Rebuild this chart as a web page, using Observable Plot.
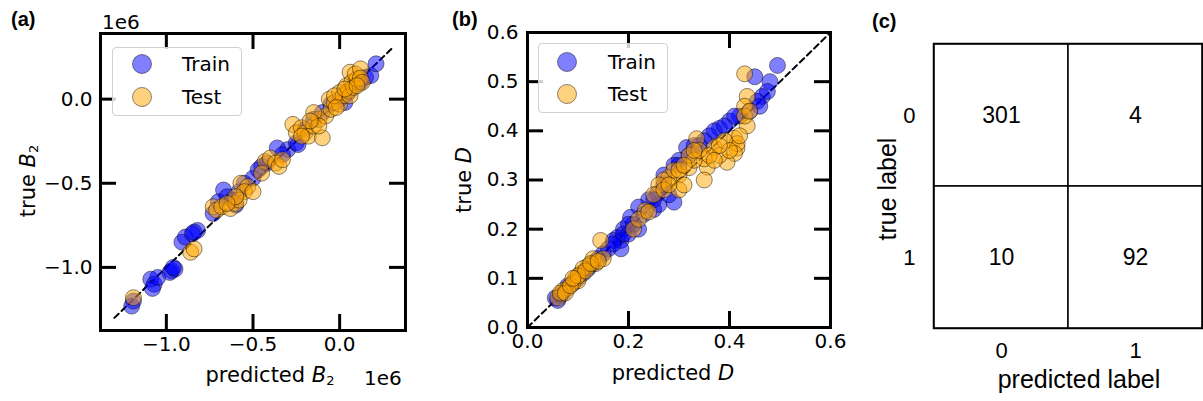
<!DOCTYPE html>
<html><head><meta charset="utf-8">
<script src="https://cdn.jsdelivr.net/npm/d3@7"></script>
<script src="https://cdn.jsdelivr.net/npm/@observablehq/plot@0.6"></script>
<style>
body{margin:0;background:#fff;}
#root{position:relative;width:1203px;height:401px;overflow:hidden;font-family:"DejaVu Sans",sans-serif;color:#000;}
#root svg{position:absolute;top:0;}
.t{position:absolute;white-space:nowrap;line-height:1;}
.dj{font-family:"DejaVu Sans";font-size:20px;}
.dt{font-family:"DejaVu Sans";font-size:21px;}
.ar{font-family:"Liberation Sans",Arial;font-size:25px;}
.pl{font-family:"Liberation Sans",Arial;font-weight:bold;font-size:20px;}
.rot{transform:translate(-50%,-50%) rotate(-90deg);}
.ctr{transform:translate(-50%,-50%);}
.leg{position:absolute;border:1px solid #d0d0d0;border-radius:4px;background:rgba(255,255,255,0.8);box-sizing:border-box;}
sub{font-size:13px;vertical-align:-3px;}
</style></head>
<body><div id="root"></div>
<script>
// ---- Panel (a): B2 regression (units of 1e6) ----
const aTrainPred = [-1.20,-1.19,-1.09,-1.07,-1.08,-1.05,-0.97,-0.98,-0.95,-0.96,-0.91,-0.89,-0.82,-0.85,-0.84,-0.70,-0.67,-0.65,-0.62,-0.58,-0.55,-0.50,-0.47,-0.45,-0.42,-0.36,-0.30,-0.25,-0.24,-0.20,-0.15,-0.10,-0.05,0.00,0.05,0.10,0.15,0.18,0.21,-0.33,-0.60,-0.73,0.03,0.12];
const aTrainTrue = [-1.23,-1.20,-1.07,-1.10,-1.125,-1.06,-1.02,-1.03,-1.01,-1.00,-0.85,-0.82,-0.78,-0.80,-0.79,-0.61,-0.54,-0.58,-0.60,-0.55,-0.50,-0.47,-0.42,-0.40,-0.38,-0.29,-0.30,-0.26,-0.27,-0.18,-0.12,-0.08,-0.03,0.00,0.04,0.09,0.13,0.14,0.21,-0.33,-0.63,-0.68,-0.02,0.10];
const aTestPred = [-1.19,-0.86,-0.84,-0.73,-0.71,-0.68,-0.63,-0.60,-0.57,-0.53,-0.55,-0.58,-0.50,-0.43,-0.40,-0.37,-0.35,-0.33,-0.27,-0.25,-0.22,-0.20,-0.18,-0.15,-0.10,-0.12,-0.08,-0.05,-0.06,-0.03,0.00,0.00,0.02,0.04,0.05,0.06,0.06,0.07,0.08,0.10,0.09,0.12,0.12,0.13,-0.15,-0.03,-0.22,-0.12,-0.02,0.03,0.10,-0.17,-0.60,-0.65,-0.45];
const aTestTrue = [-1.18,-0.91,-0.89,-0.64,-0.66,-0.64,-0.65,-0.62,-0.50,-0.52,-0.55,-0.60,-0.55,-0.37,-0.35,-0.38,-0.40,-0.36,-0.15,-0.20,-0.17,-0.20,-0.22,-0.16,-0.23,-0.12,-0.10,-0.06,0.00,-0.02,-0.03,0.04,0.02,0.08,0.05,0.02,0.16,0.10,0.07,0.12,0.15,0.18,0.125,0.10,-0.08,0.02,-0.22,-0.16,-0.05,0.06,0.08,-0.13,-0.58,-0.62,-0.44];
const aTicks = [-1.0,-0.5,0.0];
const aDiag = [-1.30,0.30];

// ---- Panel (b): D regression ----
const bTrainPred = [0.495,0.45,0.48,0.475,0.465,0.455,0.44,0.46,0.40,0.38,0.36,0.35,0.315,0.30,0.29,0.27,0.29,0.25,0.257,0.24,0.22,0.204,0.19,0.178,0.185,0.185,0.17,0.16,0.15,0.13,0.12,0.10,0.08,0.065,0.055,0.06,0.20,0.22,0.26,0.28,0.42,0.33,0.21,0.17,0.19,0.20,0.23,0.25,0.27,0.30,0.32,0.34,0.37,0.39,0.41,0.07,0.09,0.11,0.14];
const bTrainTrue = [0.533,0.51,0.50,0.48,0.47,0.46,0.44,0.45,0.42,0.405,0.39,0.38,0.366,0.34,0.33,0.31,0.255,0.24,0.272,0.26,0.245,0.224,0.20,0.183,0.177,0.16,0.177,0.16,0.15,0.13,0.12,0.10,0.085,0.065,0.06,0.055,0.19,0.20,0.25,0.27,0.43,0.37,0.21,0.17,0.19,0.21,0.23,0.26,0.29,0.33,0.35,0.37,0.40,0.41,0.43,0.07,0.09,0.11,0.14];
const bTestPred = [0.43,0.435,0.43,0.435,0.41,0.415,0.415,0.41,0.395,0.356,0.335,0.37,0.35,0.35,0.32,0.30,0.28,0.27,0.30,0.31,0.32,0.33,0.38,0.39,0.40,0.26,0.25,0.233,0.21,0.22,0.24,0.145,0.135,0.13,0.12,0.105,0.11,0.095,0.09,0.08,0.07,0.06,0.065,0.10,0.15,0.34,0.29,0.075,0.085,0.10,0.115,0.125,0.14,0.09,0.27,0.28,0.30,0.31,0.33,0.36,0.37,0.38,0.42,0.43,0.44];
const bTestTrue = [0.516,0.47,0.45,0.41,0.385,0.365,0.374,0.354,0.336,0.326,0.384,0.366,0.343,0.30,0.325,0.31,0.305,0.30,0.28,0.29,0.35,0.34,0.35,0.38,0.36,0.29,0.27,0.238,0.20,0.22,0.235,0.177,0.13,0.14,0.125,0.11,0.12,0.10,0.09,0.08,0.075,0.06,0.07,0.095,0.14,0.36,0.32,0.07,0.085,0.105,0.115,0.13,0.135,0.10,0.28,0.29,0.32,0.33,0.36,0.35,0.34,0.37,0.39,0.43,0.44];
const bTicks = [0.0,0.2,0.4,0.6];
const bYTicks = [0.0,0.1,0.2,0.3,0.4,0.5,0.6];
const bDiag = [0,0.6];

// ---- Panel (c): confusion matrix ----
const cmLabels = ["0","1"];
const cmTrue = ["0","0","1","1"];
const cmPred = ["0","1","0","1"];
const cmCount = [301,4,10,92];

const root = document.getElementById("root");
const zip = (xs, ys) => xs.map((x,i)=>({x, y: ys[i]}));

function scatter({trainP, trainT, testP, testT, xTicks, yTicks, domX, domY, diag, left, width, ml, mr, mt, mb, H, ytp}) {
  const innerH = H - mt - mb, innerW = width - ml - mr, tl = 16;
  const fmt = d3.format(".1f");
  const p = Plot.plot({
    width, height: H, marginLeft: ml, marginRight: mr, marginTop: mt, marginBottom: mb,
    style: {fontFamily: "DejaVu Sans", fontSize: "20px", color: "#000", background: "transparent"},
    x: {domain: domX}, y: {domain: domY},
    marks: [
      Plot.line(zip(diag, diag), {x:"x", y:"y", stroke:"black", strokeWidth:2, strokeDasharray:"6,4"}),
      Plot.dot(zip(trainP, trainT), {x:"x", y:"y", r:8, fill:"blue", fillOpacity:0.5, stroke:"black", strokeOpacity:0.45, strokeWidth:1}),
      Plot.dot(zip(testP, testT), {x:"x", y:"y", r:8, fill:"orange", fillOpacity:0.5, stroke:"black", strokeOpacity:0.45, strokeWidth:1}),
      Plot.ruleX(xTicks, {x: d=>d, insetTop: innerH - tl, stroke:"black", strokeWidth:3}),
      Plot.ruleX(xTicks, {x: d=>d, insetBottom: innerH - tl, stroke:"black", strokeWidth:3}),
      Plot.ruleY(yTicks, {y: d=>d, insetRight: innerW - tl, stroke:"black", strokeWidth:3}),
      Plot.ruleY(yTicks, {y: d=>d, insetLeft: innerW - tl, stroke:"black", strokeWidth:3}),
      Plot.frame({stroke:"black", strokeWidth:3}),
      Plot.axisX(xTicks, {tickSize:0, tickPadding:6, tickFormat: fmt, label:null, fontSize:20}),
      Plot.axisY(yTicks, {tickSize:0, tickPadding:ytp, tickFormat: fmt, label:null, fontSize:20})
    ]
  });
  p.style.left = left + "px";
  root.appendChild(p);
}

scatter({trainP:aTrainPred, trainT:aTrainTrue, testP:aTestPred, testT:aTestTrue, xTicks:aTicks, yTicks:aTicks,
  domX:[-1.38,0.38], domY:[-1.375,0.39], diag:aDiag, left:0, width:420, ml:100, mr:15, mt:33, mb:71, H:401, ytp:8});
scatter({trainP:bTrainPred, trainT:bTrainTrue, testP:bTestPred, testT:bTestTrue, xTicks:bTicks, yTicks:bYTicks,
  domX:[0,0.6], domY:[0,0.6], diag:bDiag, left:420, width:440, ml:107, mr:30, mt:32, mb:74, H:401, ytp:9});

// confusion matrix
const cm = cmCount.map((v,i)=>({t: cmTrue[i], p: cmPred[i], v}));
const pc = Plot.plot({
  width: 343, height: 401, marginLeft: 73, marginRight: 1, marginTop: 43, marginBottom: 73,
  style: {fontFamily: "Liberation Sans, Arial", fontSize: "22px", color:"#000", background:"transparent"},
  x: {domain: cmLabels, padding: 0}, y: {domain: cmLabels, padding: 0},
  marks: [
    Plot.cell(cm, {x:"p", y:"t", fill:"white", stroke:"black", strokeWidth:1.5}),
    Plot.text(cm, {x:"p", y:"t", text: d=>String(d.v), fontSize:23, fill:"black"}),
    Plot.frame({stroke:"black", strokeWidth:1.5}),
    Plot.axisX({tickSize:0, tickPadding:14, label:null, fontSize:22}),
    Plot.axisY({tickSize:0, tickPadding:18, label:null, fontSize:22})
  ]
});
pc.style.left = "860px";
root.appendChild(pc);

// overlay text: panel letters, axis titles, offsets, legends
function txt(html, cls, x, y, extra) {
  const d = document.createElement("div");
  d.className = "t " + cls;
  d.innerHTML = html;
  d.style.left = x + "px"; d.style.top = y + "px";
  if (extra) Object.assign(d.style, extra);
  root.appendChild(d);
  return d;
}
txt("(a)", "pl", 11, 9);
txt("(b)", "pl", 452, 9);
txt("(c)", "pl", 872, 11);

txt("true <i>B</i><sub>2</sub>", "dt rot", 29, 181);
txt("predicted <i>B</i><sub>2</sub>", "dt ctr", 270, 376);
txt("1e6", "dj", 102, 12);
txt("1e6", "dj", 364, 368);

txt("true <i>D</i>", "dt rot", 464, 180);
txt("predicted <i>D</i>", "dt ctr", 673, 373);

txt("true label", "ar rot", 887, 189);
txt("predicted label", "ar ctr", 1079, 379);

function legend(x, y, w, h, cx, tx, y1, y2) {
  const d = document.createElement("div");
  d.className = "leg";
  Object.assign(d.style, {left:x+"px", top:y+"px", width:w+"px", height:h+"px"});
  root.appendChild(d);
  const ns = "http://www.w3.org/2000/svg";
  const s = document.createElementNS(ns, "svg");
  s.setAttribute("width", 1203); s.setAttribute("height", 401);
  s.style.left = "0px"; s.style.pointerEvents = "none";
  [[y1,"blue"],[y2,"orange"]].forEach(([cy,f])=>{
    const c = document.createElementNS(ns, "circle");
    c.setAttribute("cx", cx); c.setAttribute("cy", cy); c.setAttribute("r", 9.5);
    c.setAttribute("fill", f); c.setAttribute("fill-opacity", 0.5);
    c.setAttribute("stroke", "black"); c.setAttribute("stroke-opacity", 0.45);
    s.appendChild(c);
  });
  root.appendChild(s);
  txt("Train", "dj", tx, y1 - 10);
  txt("Test", "dj", tx, y2 - 10);
}
legend(112, 47, 130, 69, 142, 182, 64, 97);
legend(538, 43, 130, 70, 567, 608, 62, 94);
</script>
</body></html>
